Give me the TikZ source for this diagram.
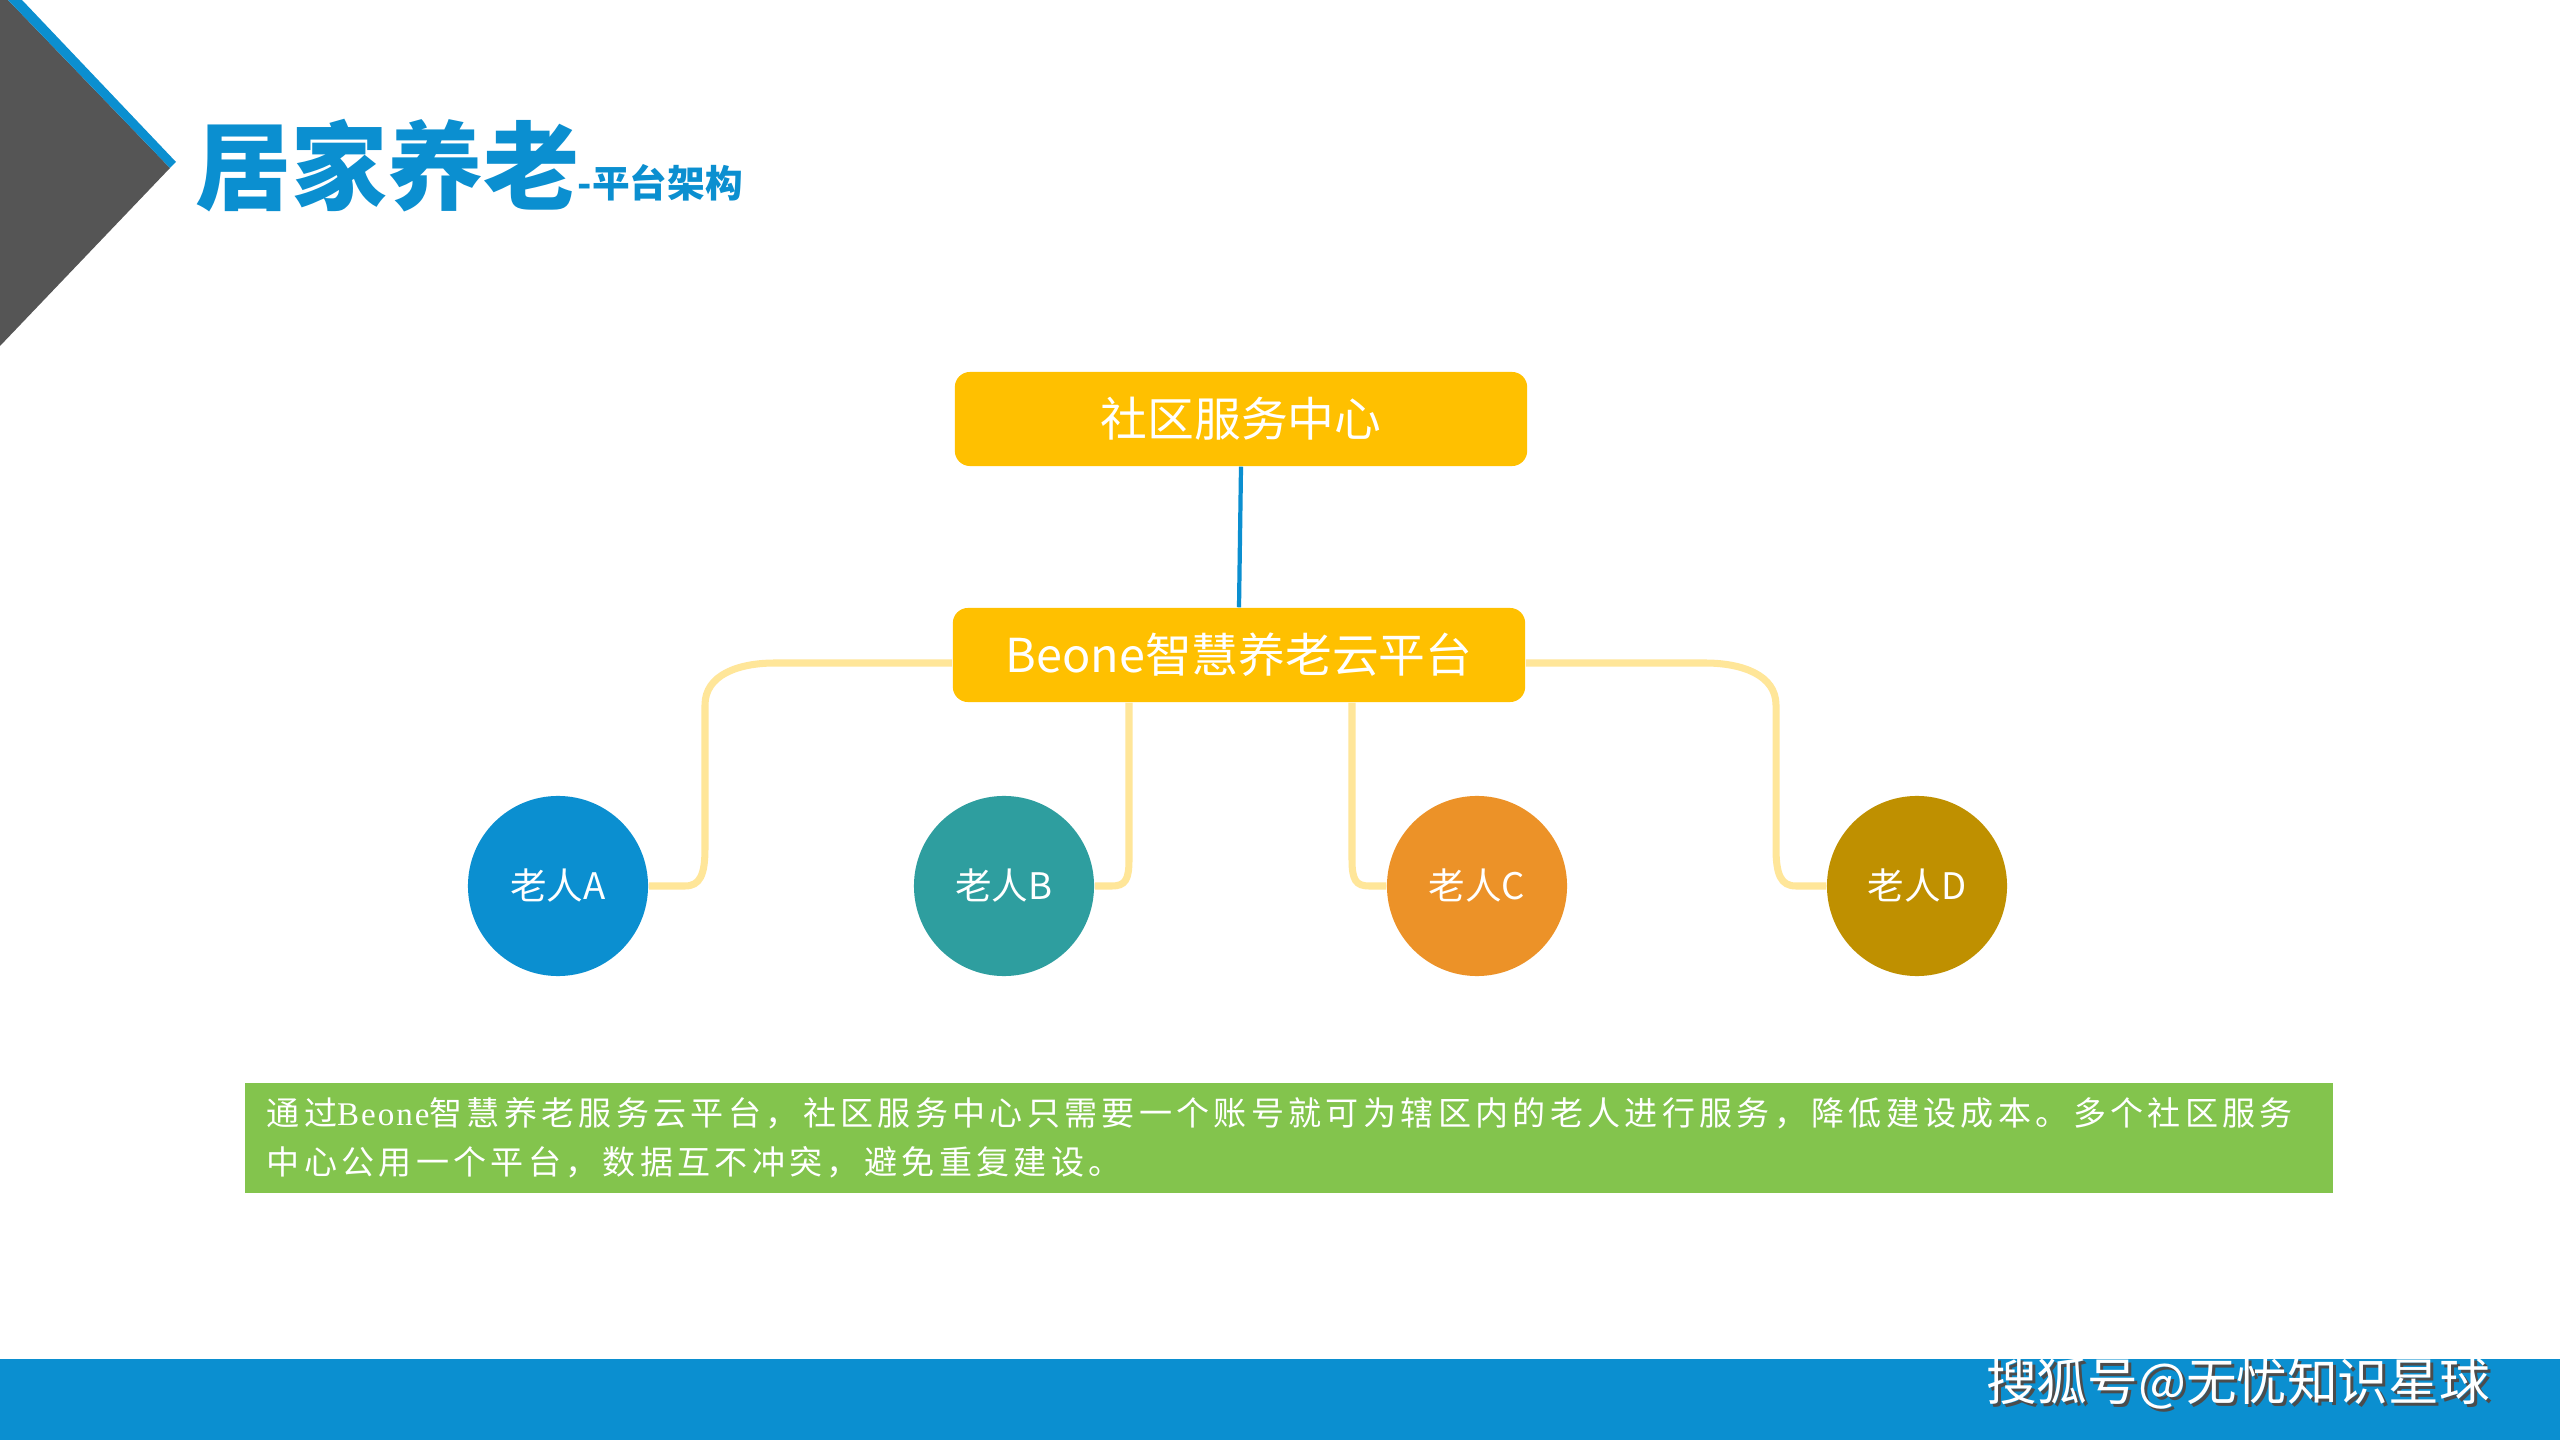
\documentclass[tikz,border=0pt]{standalone}
\usepackage{fontspec}
\setmainfont{Liberation Sans}
\newfontfamily\cjk{Noto Sans CJK SC}
\newfontfamily\cjkls{Noto Sans CJK SC}[LetterSpace=13]
\newfontfamily\serifls{Liberation Serif}[LetterSpace=6]
\usetikzlibrary{calc}
\definecolor{tblue}{HTML}{0B8FD0}
\definecolor{darkg}{HTML}{555555}
\definecolor{gold}{HTML}{FFC000}
\definecolor{lyel}{HTML}{FFE699}
\definecolor{cA}{HTML}{0B8FD0}
\definecolor{cB}{HTML}{2E9E9F}
\definecolor{cC}{HTML}{EC9228}
\definecolor{cD}{HTML}{BF9000}
\definecolor{lgreen}{HTML}{83C44D}
\begin{document}
\begin{tikzpicture}[x=0.01cm,y=-0.01cm,
  boxnode/.style={fill=gold, rounded corners=4.3pt, minimum width=5.72cm, minimum height=0.94cm,
    inner sep=0pt, text=white, font=\cjk\fontsize{13.3pt}{15pt}\selectfont},
  pers/.style={circle, minimum size=1.8cm, inner sep=0pt, text=white,
    font=\cjk\fontsize{10.4pt}{12pt}\selectfont},
  conn/.style={draw=lyel, line width=2pt},
  link/.style={draw=tblue, line width=1.2pt}]
\useasboundingbox (0,0) rectangle (2560,1440);
\fill[white] (0,0) rectangle (2560,1440);
% corner decoration
\fill[darkg] (0,0) -- (8,0) -- (170,168) -- (0,346) -- cycle;
\fill[tblue] (8,0) -- (22,0) -- (176,162) -- (170,168) -- cycle;
% title
\node[anchor=base west, inner sep=0pt, text=tblue, font=\cjk\bfseries\fontsize{27.3pt}{30pt}\selectfont] (title) at (195,203) {居家养老};
\node[anchor=base west, inner sep=0pt, text=tblue, font=\cjk\bfseries\fontsize{10.7pt}{12pt}\selectfont] (sub) at (577,198) {-平台架构};
% boxes
\node[boxnode] (svc) at (1241,419) {社区服务中心};
\node[boxnode] (plat) at (1239,655) {Beone智慧养老云平台};
% persons
\node[pers, fill=cA] (A) at (558,886) {老人A};
\node[pers, fill=cB] (B) at (1004,886) {老人B};
\node[pers, fill=cC] (C) at (1477,886) {老人C};
\node[pers, fill=cD] (D) at (1917,886) {老人D};
% connectors
\draw[link] (svc.south) -- (plat.north);
\draw[conn] ($(plat.west)+(0,8)$) -- (775,663) .. controls (738,663) and (705,675) .. (705,705)
  -- (705,848) .. controls (705,875) and (700,886) .. (685,886) -- (A.east);
\draw[conn] ($(plat.south)+(-110,0)$) -- (1129,860) .. controls (1129,880) and (1125,886) .. (1112,886) -- (B.east);
\draw[conn] ($(plat.south)+(113,0)$) -- (1352,860) .. controls (1352,880) and (1356,886) .. (1369,886) -- (C.west);
\draw[conn] ($(plat.east)+(0,8)$) -- (1705,663) .. controls (1742,663) and (1776,675) .. (1776,705)
  -- (1776,848) .. controls (1776,875) and (1781,886) .. (1796,886) -- (D.west);
% description
\fill[lgreen] (245,1083) rectangle (2333,1193);
\node[anchor=west, inner sep=0pt, align=left, text=white, font=\cjkls\fontsize{9.4pt}{13.8pt}\selectfont] (desc) at (266,1138)
  {通过{\serifls Beone}智慧养老服务云平台，社区服务中心只需要一个账号就可为辖区内的老人进行服务，降低建设成本。多个社区服务\\中心公用一个平台，数据互不冲突，避免重复建设。};
% footer
\fill[tblue] (0,1359) rectangle (2560,1440);
\node[text=black!70, font=\cjk\fontsize{14.4pt}{16pt}\selectfont, inner sep=0pt] (footsh) at (2241,1387) {搜狐号@无忧知识星球};
\node[text=white, font=\cjk\fontsize{14.4pt}{16pt}\selectfont, inner sep=0pt] (foot) at (2238,1384) {搜狐号@无忧知识星球};
\end{tikzpicture}
\end{document}
